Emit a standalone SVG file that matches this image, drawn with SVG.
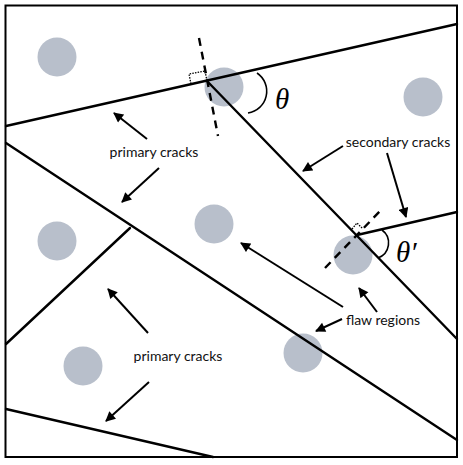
<svg xmlns="http://www.w3.org/2000/svg" width="463" height="465" viewBox="0 0 463 465">
<style>
.flaw{fill:#b8bfcb}
.crack{stroke:#000;stroke-width:2.4;fill:none;stroke-linecap:round}
.dash{stroke:#000;stroke-width:2.4;fill:none;stroke-dasharray:8 6}
.dot{stroke:#000;stroke-width:1.3;fill:none;stroke-dasharray:1.5 1.2}
.arc{stroke:#000;stroke-width:1.6;fill:none}
.ann{stroke:#000;stroke-width:2;fill:none;marker-end:url(#ah)}
.lbl{font-family:Lato,"Open Sans","Liberation Sans",sans-serif;font-size:14px;fill:#111;text-anchor:middle}
.ang{font-family:"Liberation Serif","DejaVu Serif",serif;font-style:italic;font-size:29px;fill:#000}
</style>
<defs>
<marker id="ah" viewBox="0 0 10 10" refX="9" refY="5" markerWidth="5.5" markerHeight="5" orient="auto" markerUnits="strokeWidth">
<path d="M0,0 L10,5 L0,10 Z" fill="#000"/>
</marker>
</defs>
<rect x="0" y="0" width="463" height="465" fill="#fff"/>
<g id="flaws">
<circle id="f1" class="flaw" cx="57" cy="57" r="19.5"/>
<circle id="f2" class="flaw" cx="224" cy="87" r="19.5"/>
<circle id="f3" class="flaw" cx="423" cy="97" r="19.5"/>
<circle id="f4" class="flaw" cx="57" cy="241" r="19.5"/>
<circle id="f5" class="flaw" cx="214" cy="224" r="19.5"/>
<circle id="f6" class="flaw" cx="353" cy="255" r="19.5"/>
<circle id="f7" class="flaw" cx="83" cy="366" r="19.5"/>
<circle id="f8" class="flaw" cx="303" cy="353" r="19.5"/>
</g>
<g id="cracks">
<line class="crack" x1="6" y1="126" x2="457" y2="24"/>
<line class="crack" x1="207" y1="81" x2="457" y2="339"/>
<line class="crack" x1="357" y1="235" x2="457" y2="212"/>
<line class="crack" x1="6" y1="143" x2="457" y2="440"/>
<line class="crack" x1="130" y1="228" x2="6" y2="344"/>
<line class="crack" x1="6" y1="409" x2="213" y2="457"/>
</g>
<g id="angles">
<line class="dash" x1="199" y1="38" x2="218" y2="136"/>
<path class="dot" d="M207,81 L205,71 L189,74 L191,84"/>
<path class="arc" d="M257,73 A22 22 0 0 1 248,113"/>
<text class="ang" x="275" y="109">θ</text>
<line class="dash" x1="325" y1="268" x2="383" y2="208"/>
<path class="dot" d="M352,229 L357,223 L363,229"/>
<path class="arc" d="M382,230 A16 16 0 0 1 378,258"/>
<text class="ang" x="396" y="262">θ′</text>
</g>
<g id="connectors">
<line class="ann" x1="147" y1="139" x2="114" y2="113"/>
<line class="ann" x1="159" y1="168" x2="122" y2="202"/>
<line class="ann" x1="343" y1="146" x2="303" y2="171"/>
<line class="ann" x1="387" y1="153" x2="406" y2="217"/>
<line class="ann" x1="342" y1="319" x2="316" y2="331"/>
<line class="ann" x1="343" y1="307" x2="241" y2="243"/>
<line class="ann" x1="377" y1="312" x2="359" y2="288"/>
<line class="ann" x1="148" y1="333" x2="108" y2="289"/>
<line class="ann" x1="149" y1="382" x2="106" y2="421"/>
</g>
<g id="labels">
<text class="lbl" x="154" y="157">primary cracks</text>
<text class="lbl" x="398" y="147">secondary cracks</text>
<text class="lbl" x="383" y="325">flaw regions</text>
<text class="lbl" x="178" y="361">primary cracks</text>
</g>
<rect id="frame" x="5.5" y="5.5" width="451.5" height="451.5" fill="none" stroke="#000" stroke-width="2"/>
</svg>
